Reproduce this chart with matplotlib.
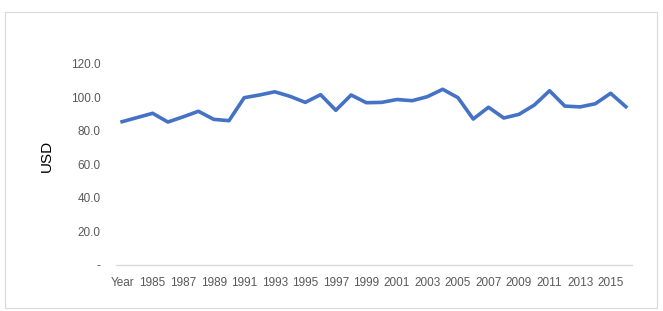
import matplotlib
matplotlib.use('Agg')
import matplotlib.pyplot as plt
from matplotlib.patches import Rectangle

# categories (Excel picked up the header "Year" as the first category)
categories = ['Year'] + [str(y) for y in range(1984, 2017)]
prices = [85.3, 87.8, 90.3, 85.1, 88.2, 91.5, 86.7, 85.9, 99.6, 101.2,
          103.1, 100.4, 96.8, 101.4, 92.1, 101.2, 96.6, 96.8, 98.5, 97.8,
          100.2, 104.6, 99.6, 86.9, 93.9, 87.5, 89.7, 95.2, 103.7, 94.6,
          94.1, 96.0, 102.2, 94.2]
yticks = [0, 20, 40, 60, 80, 100, 120]
ytick_labels = ['-', '20.0', '40.0', '60.0', '80.0', '100.0', '120.0']

plt.rcParams['font.family'] = ['Liberation Sans', 'DejaVu Sans']

fig = plt.figure(figsize=(6.63, 3.11), dpi=100)
ax = fig.add_axes([116 / 663, 1 - 265 / 311, (632 - 116) / 663, (265 - 55) / 311])

x = list(range(len(categories)))
ax.plot(x, prices, color='#4472C4', linewidth=2.6, solid_joinstyle='round')

ax.set_xlim(-0.4, len(categories) - 0.6)
ax.set_ylim(0, 125)
ax.set_yticks(yticks)
ax.set_yticklabels(ytick_labels)
ax.set_xticks(x[::2])
ax.set_xticklabels(categories[::2])

ax.tick_params(axis='both', length=0, labelsize=8.5, colors='#595959')
ax.tick_params(axis='y', pad=11)
ax.tick_params(axis='x', pad=9)

for side in ['top', 'right', 'left']:
    ax.spines[side].set_visible(False)
ax.spines['bottom'].set_color('#D9D9D9')
ax.spines['bottom'].set_linewidth(1.0)

ax.set_ylabel('USD', fontsize=11, color='black')
ax.yaxis.set_label_coords(-62 / 516, 0.52)

# chart area border
fig.patches.append(Rectangle((4.5 / 663, 1 - 308 / 311), 652 / 663, 296.5 / 311,
                             transform=fig.transFigure, fill=False,
                             edgecolor='#D9D9D9', linewidth=0.8))

fig.savefig('out.png', dpi=100)
